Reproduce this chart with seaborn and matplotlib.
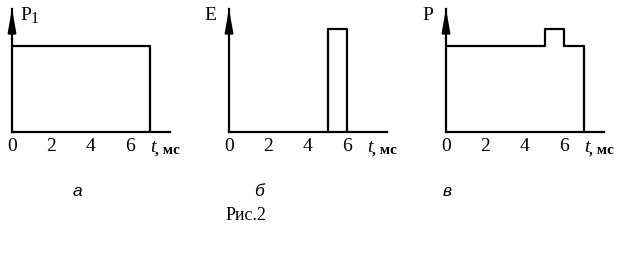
import matplotlib
matplotlib.use("Agg")
import matplotlib.pyplot as plt
import seaborn as sns
import pandas as pd

sns.set_theme(style="white")
plt.rcParams['font.family'] = ['Liberation Serif', 'DejaVu Serif']

# ---- data ----
tick_vals = [0, 2, 4, 6]
tick_labels = ["0", "2", "4", "6"]

t_a = [0, 7, 7]
p1_a = [1.0, 1.0, 0.0]

t_b = [5, 5, 6, 6]
e_b = [0.0, 1.19, 1.19, 0.0]

t_c = [0, 5, 5, 6, 6, 7, 7]
p_c = [1.0, 1.0, 1.19, 1.19, 1.0, 1.0, 0.0]

panel_ylabels = ["P", "E", "P"]
panel_subs = ["1", "", ""]
panel_letters = ["а", "б", "в"]
caption = "Рис.2"

W, H = 624, 256
fig = plt.figure(figsize=(W / 100, H / 100), dpi=100)

px_per_unit = 19.7
base_y = 131.5
top_y = 9
level_px = 86.0
xmax = 8.0
ymax = (base_y - top_y) / level_px

lefts = [12, 229, 446]
datasets = [(t_a, p1_a), (t_b, e_b), (t_c, p_c)]
tick_len = [12, 8, 8]
ylab_pos = [(20, 15), (204, 15), (422, 15)]

for i in range(3):
    ax = fig.add_axes([lefts[i] / W, (H - base_y) / H,
                       xmax * px_per_unit / W, (base_y - top_y) / H])
    tx, ty = datasets[i]
    df = pd.DataFrame({"t": tx, "v": ty})
    sns.lineplot(data=df, x="t", y="v", sort=False, estimator=None,
                 color="black", lw=1.6, ax=ax)
    ax.set_xlim(0, xmax)
    ax.set_ylim(0, ymax)
    ax.set_xlabel("")
    ax.set_ylabel("")
    for s in ["top", "right"]:
        ax.spines[s].set_visible(False)
    for s in ["left", "bottom"]:
        ax.spines[s].set_color("black")
        ax.spines[s].set_linewidth(1.6)
    ax.set_xticks(tick_vals)
    ax.set_xticklabels(tick_labels)
    ax.tick_params(axis="x", direction="in", length=tick_len[i] * 0.72,
                   width=1.0, color="black", pad=5, labelsize=14,
                   labelcolor="black")
    ax.set_yticks([])
    ax.patch.set_alpha(0)
    # arrow on y-axis
    ax.annotate("", xy=(0, ymax), xytext=(0, ymax - 0.25),
                arrowprops=dict(arrowstyle="-|>,head_length=1.1,head_width=0.2",
                                color="black", lw=1.6, shrinkA=0, shrinkB=0),
                annotation_clip=False)
    # t, мс label
    tt = ax.text(7.0, -0.062, "t", transform=ax.get_xaxis_transform(),
                 ha="left", va="top", fontsize=14, style="italic", color="black")
    ax.annotate(", мс", xy=(1, 0), xycoords=tt, ha="left", va="bottom",
                fontsize=11, fontweight="bold", color="black")
    # y label
    yl = fig.text(ylab_pos[i][0] / W, 1 - ylab_pos[i][1] / H, panel_ylabels[i],
                  ha="left", va="center", fontsize=14, color="black")
    if panel_subs[i]:
        fig.text(ylab_pos[i][0] / W + 11 / W, 1 - 19 / H, panel_subs[i],
                 ha="left", va="center", fontsize=11.5, color="black")

letter_x = [77, 259, 447]
for i in range(3):
    fig.text(letter_x[i] / W, 1 - 191 / H, panel_letters[i], ha="center",
             va="center", fontsize=12.5, style="italic", color="black",
             family=["Liberation Sans", "DejaVu Sans"])

fig.text(246 / W, 1 - 215 / H, caption, ha="center", va="center",
         fontsize=13, color="black")

fig.savefig("out.png", dpi=100, facecolor="white")
